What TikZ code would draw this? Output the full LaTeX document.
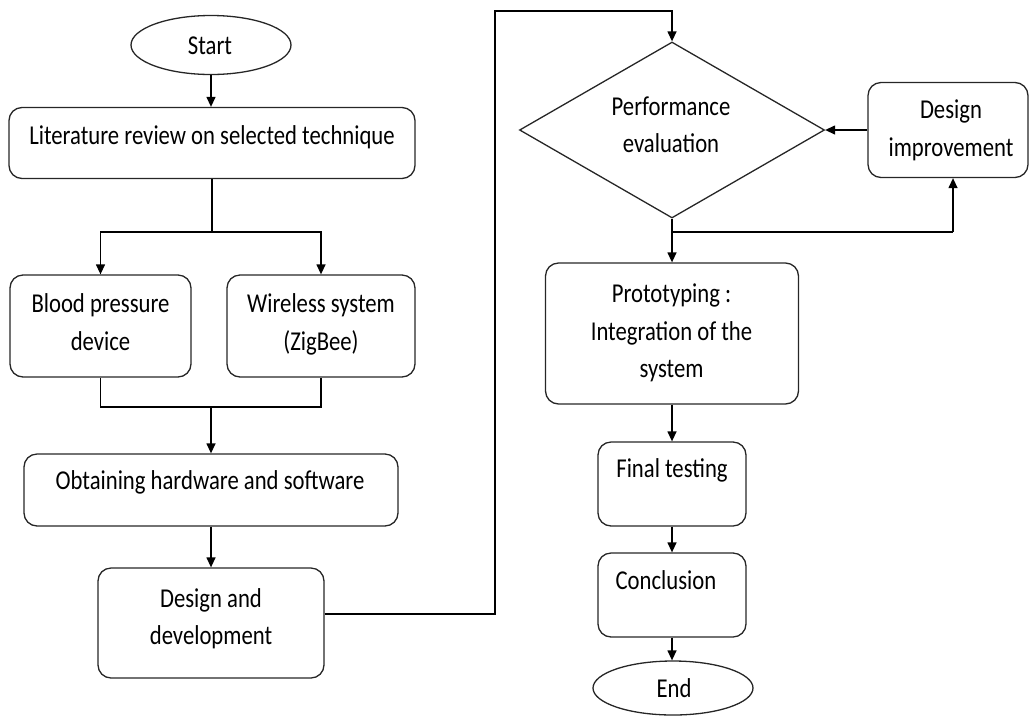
\documentclass[tikz,border=0pt]{standalone}
\usepackage{fontspec}
\setmainfont{Carlito}
\usepackage{graphicx}
\usetikzlibrary{shapes.geometric,arrows.meta}
\newcommand{\T}[1]{\scalebox{1}[1.2]{\begin{tabular}{@{}c@{}}#1\end{tabular}}}
\begin{document}
\begin{tikzpicture}[x=1pt,y=-1pt,
  box/.style={draw=black!85, line width=1.3pt, rounded corners=13pt, inner sep=0pt},
  txt/.style={font=\fontsize{22.7}{31.5}\selectfont, inner sep=0pt, text=black},
  oval/.style={draw=black!85, line width=1.3pt, ellipse, inner sep=0pt},
  dia/.style={draw=black!85, line width=1.3pt, diamond, inner sep=0pt},
  con/.style={line width=1.3pt, draw=black},
  arr/.style={con, -{Triangle[length=10pt,width=9pt]}}]
\useasboundingbox (0,0) rectangle (1030,716);

% shapes
\node[oval, minimum width=160pt, minimum height=59pt] (start) at (211,45) {};
\node[box, minimum width=406pt, minimum height=71pt] (lit) at (212,143) {};
\node[box, minimum width=181pt, minimum height=102pt] (bp) at (100.5,326) {};
\node[box, minimum width=188pt, minimum height=102pt] (wl) at (321,326) {};
\node[box, minimum width=374pt, minimum height=72pt] (obt) at (211,490) {};
\node[box, minimum width=226pt, minimum height=110pt] (dd) at (211,623) {};
\node[dia, minimum width=305pt, minimum height=176pt] (pe) at (672,130) {};
\node[box, minimum width=160pt, minimum height=95pt] (di) at (948,130) {};
\node[box, minimum width=253pt, minimum height=141pt] (proto) at (672,333.5) {};
\node[box, minimum width=148pt, minimum height=84pt] (ft) at (672,484) {};
\node[box, minimum width=148pt, minimum height=84pt] (co) at (672,595) {};
\node[oval, minimum width=160pt, minimum height=54pt] (end) at (673,688) {};

% texts
\node[txt] (tstart) at (210,47) {\T{Start}};
\node[txt] (tlit) at (212,137) {\T{Literature review on selected technique}};
\node[txt] (tbp) at (100.5,324) {\T{Blood pressure\\device}};
\node[txt] (twl) at (321,324) {\T{Wireless system\\(ZigBee)}};
\node[txt] (tobt) at (210,482) {\T{Obtaining hardware and software}};
\node[txt] (tdd) at (211,618.5) {\T{Design and\\development}};
\node[txt] (tpe) at (671,126.5) {\T{Performance\\evaluation}};
\node[txt] (tdi) at (951,130) {\T{Design\\improvement}};
\node[txt] (tproto) at (671.5,332.5) {\T{Prototyping :\\Integration of the\\system}};
\node[txt] (tft) at (672,470) {\T{Final testing}};
\node[txt] (tco) at (666,582) {\T{Conclusion}};
\node[txt] (tend) at (674,690) {\T{End}};

% helper coordinates
\coordinate (f1) at (212,232);
\coordinate (j1) at (211,407);
\coordinate (c1) at (495,11);
\coordinate (j2) at (672,232);
\coordinate (j3) at (953,232);

% connectors
\draw[arr] (start.south) -- (start.south |- lit.north);
\draw[con] (lit.south) -- (f1);
\draw[arr] (f1) -| (bp.north);
\draw[arr] (f1) -| (wl.north);
\draw[con] (bp.south) |- (j1) -| (wl.south);
\draw[arr] (j1) -- (obt.north);
\draw[arr] (obt.south) -- (dd.north);
\draw[arr] ([yshift=9pt]dd.east) -| (c1) -| (pe.north);
\draw[arr] (di.west) -- (pe.east);
\draw[con] (pe.south) -- (j2) -- (j3);
\draw[arr] (j3) -- (j3 |- di.south);
\draw[arr] (j2) -- (proto.north);
\draw[arr] (proto.south) -- (ft.north);
\draw[arr] (ft.south) -- (co.north);
\draw[arr] (co.south) -- (co.south |- end.north);
\end{tikzpicture}
\end{document}
